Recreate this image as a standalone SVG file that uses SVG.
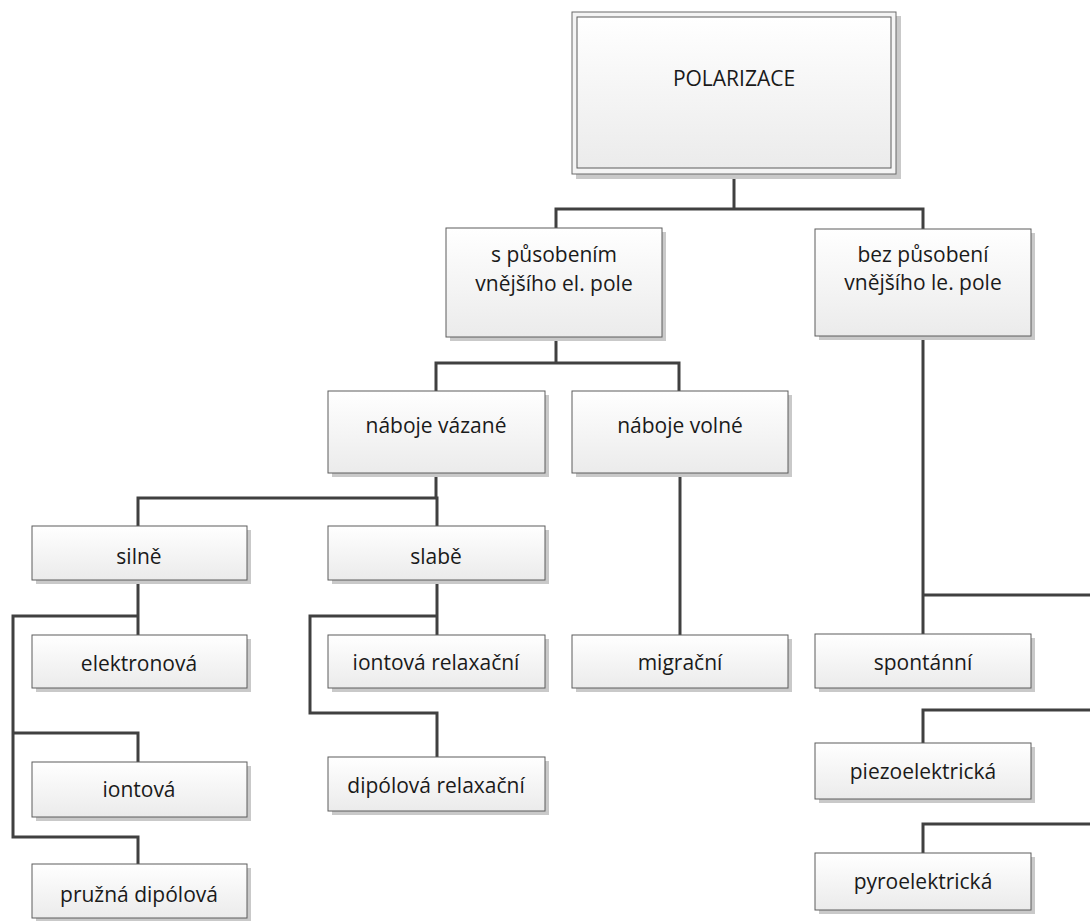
<svg xmlns="http://www.w3.org/2000/svg" width="1090" height="921" viewBox="0 0 1090 921">
  <style>
    .box { fill: url(#boxFill); stroke: #5c5c5c; stroke-width: 1; }
    .shadow { fill: #c9c9c9; }
    .frame { fill: #f4f4f4; stroke: #6a6a6a; stroke-width: 1; }
    .label { font-family: "Open Sans", "Liberation Sans", sans-serif; font-size: 21px; fill: #1a1a1a; text-anchor: middle; }
    .wire { fill: none; stroke: #404040; stroke-width: 3; stroke-linejoin: miter; stroke-linecap: butt; }
  </style>
  <defs>
    <linearGradient id="boxFill" x1="0" y1="0" x2="0" y2="1">
      <stop offset="0" stop-color="#ffffff"/>
      <stop offset="1" stop-color="#ebebeb"/>
    </linearGradient>
  </defs>
  <rect width="1090" height="921" fill="#ffffff"/>

  <!-- connectors -->
  <g id="connectors" class="wire">
    <path d="M734 174 V209"/>
    <path d="M556 228 V209 H923 V229"/>
    <path d="M556 337 V363"/>
    <path d="M436 391 V363 H679 V391"/>
    <path d="M436 473 V498"/>
    <path d="M138 526 V498 H437 V526"/>
    <path d="M138 580 V635"/>
    <path d="M138 616 H13 V837 H138 V864"/>
    <path d="M13 733 H138 V762"/>
    <path d="M437 580 V635"/>
    <path d="M437 616 H310 V713 H437 V757"/>
    <path d="M680 473 V635"/>
    <path d="M923 336 V634"/>
    <path d="M923 595 H1090"/>
    <path d="M923 743 V710 H1090"/>
    <path d="M923 853 V824 H1090"/>
  </g>

  <!-- root node -->
  <g id="node-polarizace">
    <rect class="shadow" x="576" y="16" width="325" height="163"/>
    <rect class="frame" x="572" y="12" width="324" height="162"/>
    <rect class="box" x="577" y="17" width="314" height="151"/>
    <text class="label" x="734" y="86">POLARIZACE</text>
  </g>

  <g id="node-s-pusobenim">
    <rect class="shadow" x="450" y="232" width="216" height="109"/>
    <rect class="box" x="446" y="228" width="216" height="109"/>
    <text class="label" x="554" y="262">s působením</text>
    <text class="label" x="554" y="291">vnějšího el. pole</text>
  </g>

  <g id="node-bez-pusobeni">
    <rect class="shadow" x="819" y="233" width="216" height="107"/>
    <rect class="box" x="815" y="229" width="216" height="107"/>
    <text class="label" x="923" y="262">bez působení</text>
    <text class="label" x="923" y="290">vnějšího le. pole</text>
  </g>

  <g id="node-naboje-vazane">
    <rect class="shadow" x="332" y="395" width="217" height="82"/>
    <rect class="box" x="328" y="391" width="217" height="82"/>
    <text class="label" x="436" y="433">náboje vázané</text>
  </g>

  <g id="node-naboje-volne">
    <rect class="shadow" x="576" y="395" width="216" height="82"/>
    <rect class="box" x="572" y="391" width="216" height="82"/>
    <text class="label" x="680" y="433">náboje volné</text>
  </g>

  <g id="node-silne">
    <rect class="shadow" x="36" y="530" width="215" height="54"/>
    <rect class="box" x="32" y="526" width="215" height="54"/>
    <text class="label" x="139" y="564">silně</text>
  </g>

  <g id="node-slabe">
    <rect class="shadow" x="332" y="530" width="217" height="54"/>
    <rect class="box" x="328" y="526" width="217" height="54"/>
    <text class="label" x="436" y="564">slabě</text>
  </g>

  <g id="node-elektronova">
    <rect class="shadow" x="36" y="639" width="215" height="53"/>
    <rect class="box" x="32" y="635" width="215" height="53"/>
    <text class="label" x="139" y="671">elektronová</text>
  </g>

  <g id="node-iontova">
    <rect class="shadow" x="36" y="766" width="215" height="55"/>
    <rect class="box" x="32" y="762" width="215" height="55"/>
    <text class="label" x="139" y="797">iontová</text>
  </g>

  <g id="node-pruzna-dipolova">
    <rect class="shadow" x="36" y="868" width="215" height="54"/>
    <rect class="box" x="32" y="864" width="215" height="54"/>
    <text class="label" x="139" y="902">pružná dipólová</text>
  </g>

  <g id="node-iontova-relaxacni">
    <rect class="shadow" x="332" y="639" width="217" height="53"/>
    <rect class="box" x="328" y="635" width="217" height="53"/>
    <text class="label" x="436" y="670">iontová relaxační</text>
  </g>

  <g id="node-dipolova-relaxacni">
    <rect class="shadow" x="332" y="761" width="217" height="54"/>
    <rect class="box" x="328" y="757" width="217" height="54"/>
    <text class="label" x="436" y="793">dipólová relaxační</text>
  </g>

  <g id="node-migracni">
    <rect class="shadow" x="576" y="639" width="216" height="53"/>
    <rect class="box" x="572" y="635" width="216" height="53"/>
    <text class="label" x="680" y="670">migrační</text>
  </g>

  <g id="node-spontanni">
    <rect class="shadow" x="819" y="638" width="216" height="54"/>
    <rect class="box" x="815" y="634" width="216" height="54"/>
    <text class="label" x="923" y="670">spontánní</text>
  </g>

  <g id="node-piezoelektricka">
    <rect class="shadow" x="819" y="747" width="216" height="56"/>
    <rect class="box" x="815" y="743" width="216" height="56"/>
    <text class="label" x="923" y="779">piezoelektrická</text>
  </g>

  <g id="node-pyroelektricka">
    <rect class="shadow" x="819" y="857" width="216" height="57"/>
    <rect class="box" x="815" y="853" width="216" height="57"/>
    <text class="label" x="923" y="889">pyroelektrická</text>
  </g>
</svg>
